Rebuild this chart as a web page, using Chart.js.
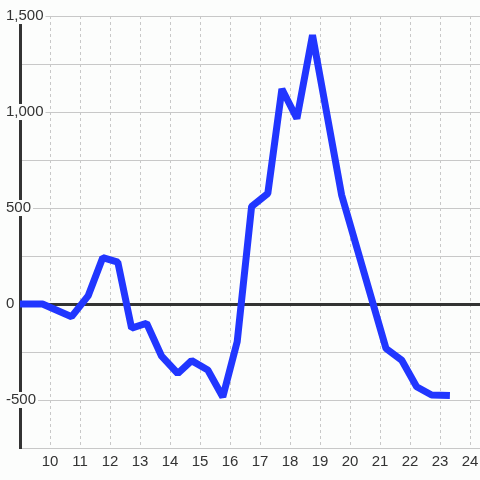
<!DOCTYPE html>
<html>
<head>
<meta charset="utf-8">
<script src="https://cdn.jsdelivr.net/npm/chart.js@4/dist/chart.umd.min.js"></script>
<style>
    html, body { margin: 0; padding: 0; background: #fcfdfc; }
    #wrap { width: 480px; height: 480px; }
</style>
</head>
<body>
<div id="wrap"><canvas id="hourChart"></canvas></div>
<script>
// hour of day and value
const hours = [9, 9.75, 10.72, 11.27, 11.76, 12.26, 12.72, 13.22, 13.72, 14.26, 14.72, 15.26,
    15.76, 16.24, 16.72, 17.26, 17.73, 18.23, 18.75, 19.72, 21.2, 21.72, 22.22, 22.72, 23.33];
const values = [0, 0, -66, 42, 242, 218, -126, -100, -272, -362, -295, -344,
    -484, -196, 508, 576, 1120, 966, 1400, 568, -232, -292, -431, -474, -477];
const yTicks = [-500, 0, 500, 1000, 1500];

const bg = '#fcfdfc';
const labelled = v => yTicks.includes(v);

new Chart(document.getElementById('hourChart'), {
    type: 'line',
    data: {
        datasets: [{
            data: hours.map((h, i) => ({ x: h, y: values[i] })),
            borderColor: '#2136ff',
            borderWidth: 7,
            borderJoinStyle: 'bevel',
            pointRadius: 0,
            tension: 0,
            fill: false
        }]
    },
    options: {
        responsive: true,
        maintainAspectRatio: false,
        animation: false,
        layout: { padding: { left: 20, top: 16, right: 0, bottom: 0 } },
        plugins: {
            legend: { display: false },
            tooltip: { enabled: false }
        },
        scales: {
            x: {
                type: 'linear',
                min: 9,
                max: 24.333,
                afterFit: s => { s.height = 32; s.paddingLeft = 0; s.paddingRight = 0; },
                grid: { color: '#c8c8c8', drawTicks: false },
                border: { display: false, dash: [3, 3] },
                ticks: {
                    stepSize: 1,
                    includeBounds: false,
                    autoSkip: false,
                    maxRotation: 0,
                    padding: 5,
                    color: '#333',
                    font: { family: 'Liberation Sans, Arial, sans-serif', size: 15 },
                    callback: v => v >= 10 ? v : ''
                }
            },
            y: {
                min: -750,
                max: 1500,
                afterFit: s => { s.width = 0; s.paddingTop = 0; s.paddingBottom = 0; },
                grid: {
                    drawTicks: false,
                    color: c => c.tick && c.tick.value === 0 ? '#333' : '#c8c8c8',
                    lineWidth: c => c.tick && c.tick.value === 0 ? 3 : 1
                },
                border: { color: '#333', width: 3 },
                ticks: {
                    stepSize: 250,
                    mirror: true,
                    padding: -14,
                    crossAlign: 'near',
                    color: '#333',
                    font: { family: 'Liberation Sans, Arial, sans-serif', size: 15, lineHeight: 1.07 },
                    showLabelBackdrop: true,
                    backdropPadding: { x: 2, y: 0 },
                    backdropColor: c => c.tick && labelled(c.tick.value) ? bg : 'rgba(0,0,0,0)',
                    callback: v => labelled(v) ? v.toLocaleString('en-US') : ''
                }
            }
        }
    }
});
</script>
</body>
</html>
